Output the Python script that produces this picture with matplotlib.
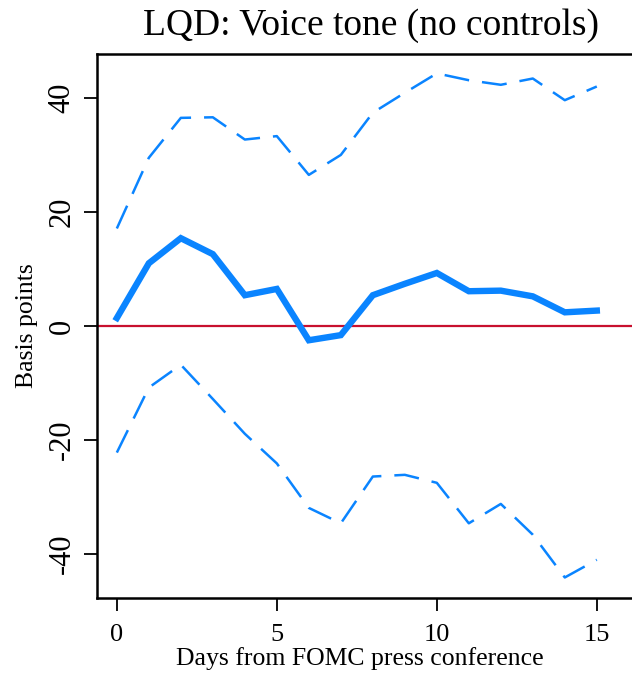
import matplotlib
matplotlib.use("Agg")
import matplotlib.pyplot as plt

# values (basis points)
days = list(range(16))
point_est = [1.4, 11.0, 15.4, 12.6, 5.4, 6.5, -2.5, -1.6, 5.4, 7.4, 9.3, 6.1, 6.2, 5.2, 2.4, 2.7]
upper_ci = [17.1, 29.5, 36.5, 36.6, 32.7, 33.3, 26.5, 30.0, 37.4, 40.9, 44.3, 43.1, 42.3, 43.4, 39.6, 42.0]
lower_ci = [-22.2, -10.8, -6.8, -12.8, -18.9, -24.1, -31.9, -34.6, -26.4, -26.1, -27.5, -34.6, -31.2, -36.6, -44.1, -41.0]

x_ticks = [0, 5, 10, 15]
y_ticks = [-40, -20, 0, 20, 40]

blue = "#0a84ff"
red = "#c8102e"

plt.rcParams["font.family"] = ["Liberation Serif", "DejaVu Serif"]

fig = plt.figure(figsize=(6.32, 6.75), dpi=100)
ax = fig.add_axes([97 / 632, 77 / 675, 535 / 632, 544 / 675])

ax.axhline(0, color=red, lw=1.6, zorder=1)
ax.plot(days, upper_ci, color=blue, lw=1.8, linestyle=(0, (10, 5.2)), zorder=2)
ax.plot(days, lower_ci, color=blue, lw=1.8, linestyle=(0, (10, 5.2)), zorder=2)
ax.plot(days, point_est, color=blue, lw=4.6, solid_joinstyle="miter", zorder=3)

ax.set_xlim(-0.62, 16.1)
ax.set_ylim(-47.7, 47.7)
ax.set_xticks(x_ticks)
ax.set_yticks(y_ticks)
ax.set_yticklabels([str(v) for v in y_ticks], rotation=90, va="center")

ax.tick_params(axis="both", direction="out", length=9.5, width=1.3)
ax.tick_params(axis="x", pad=9, labelsize=19)
ax.tick_params(axis="y", pad=5, labelsize=22)
for side in ["left", "bottom", "top"]:
    ax.spines[side].set_linewidth(1.8)
ax.spines["right"].set_visible(False)

ax.set_xlabel("Days from FOMC press conference", fontsize=18.5)
ax.set_ylabel("Basis points", fontsize=18.5)
ax.xaxis.set_label_coords(263 / 535, -0.09)
ax.yaxis.set_label_coords(-0.11, 0.5)

fig.text(371 / 632, 1 - 35 / 675, "LQD: Voice tone (no controls)", fontsize=27,
         ha="center", va="baseline")

fig.savefig("out.png", dpi=100)
